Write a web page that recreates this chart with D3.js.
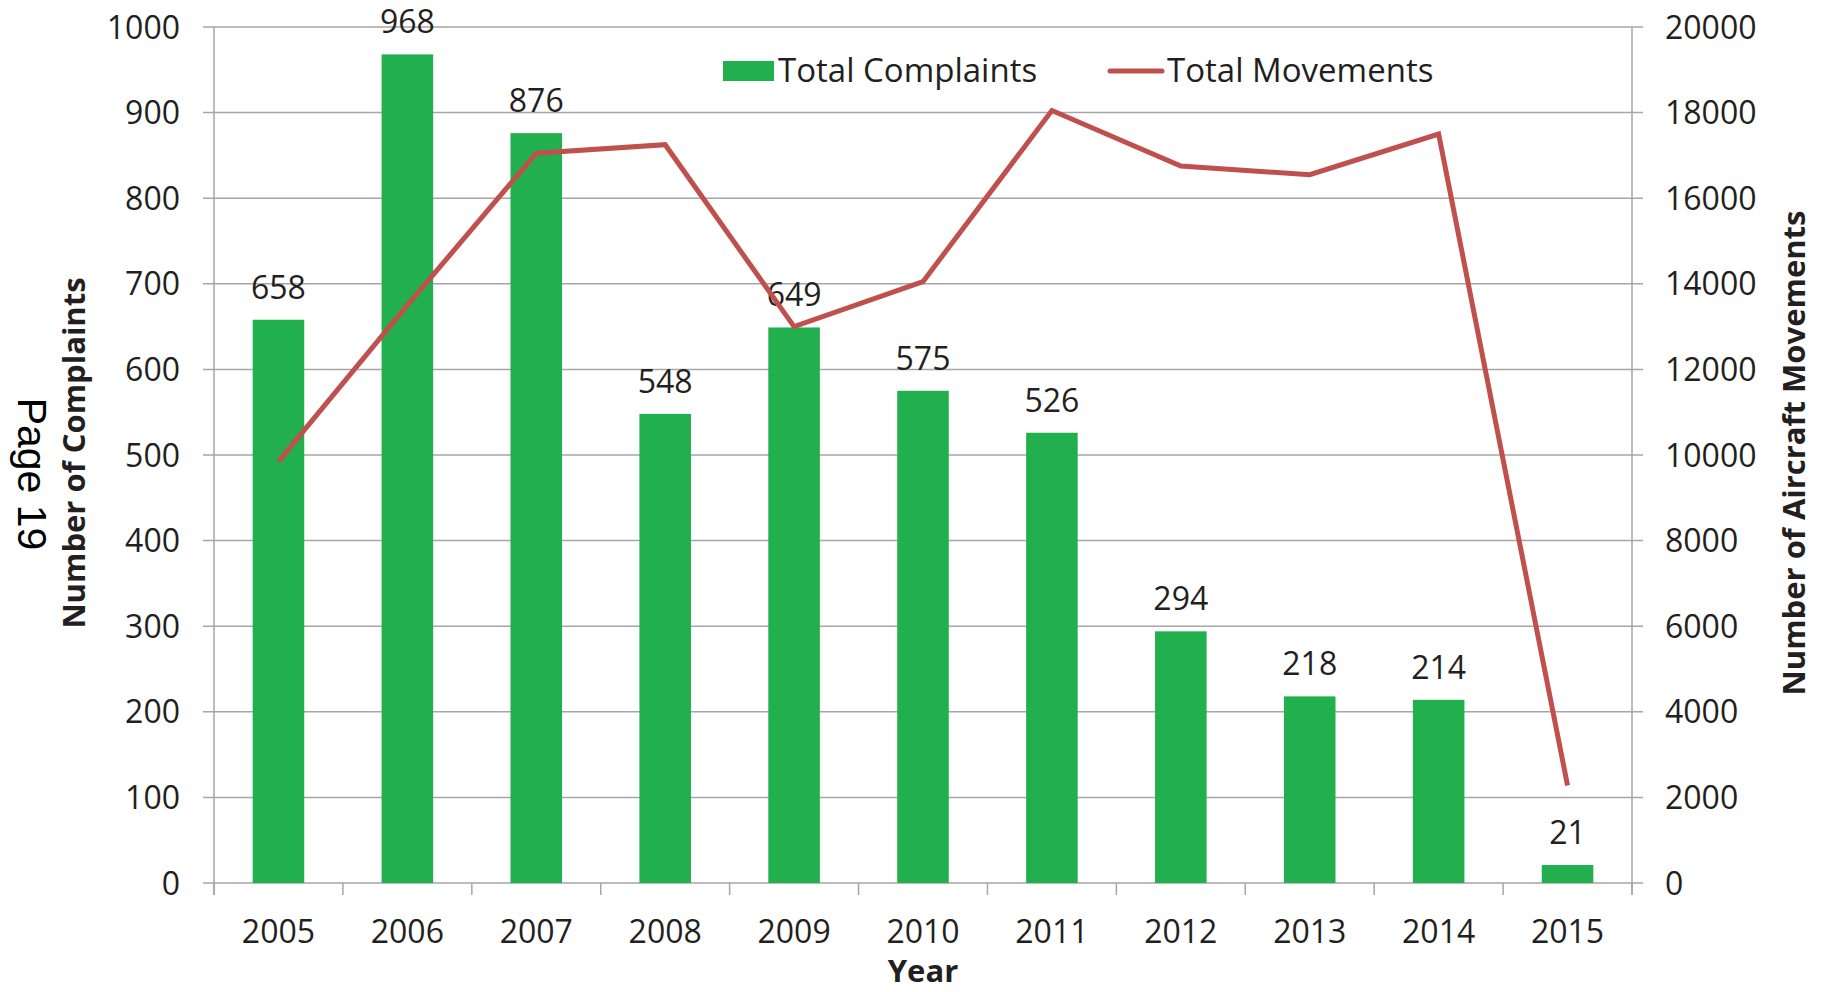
<!DOCTYPE html>
<html>
<head>
<meta charset="utf-8">
<script src="https://cdn.jsdelivr.net/npm/d3@7"></script>
<style>
  body { margin: 0; background: #fff; }
  svg text { font-family: "Open Sans", sans-serif; fill: #231f20; }
</style>
</head>
<body>
<svg id="chart"></svg>
<script>
/* Complaints vs aircraft movements, 2005 - 2015 */

const years = ["2005", "2006", "2007", "2008", "2009", "2010", "2011", "2012", "2013", "2014", "2015"];
const complaints = [658, 968, 876, 548, 649, 575, 526, 294, 218, 214, 21];
const movements = [9850, 13500, 17050, 17250, 13000, 14050, 18050, 16750, 16550, 17500, 2280];
const leftTicks = [0, 100, 200, 300, 400, 500, 600, 700, 800, 900, 1000];
const rightTicks = [0, 2000, 4000, 6000, 8000, 10000, 12000, 14000, 16000, 18000, 20000];

const width = 1823, height = 992;
const margin = {top: 27, right: 191, bottom: 109, left: 214};
const gridColor = "#a6a6a6";

let svg = d3.select("#chart")
    .attr("width", width)
    .attr("height", height);

/*** scales */
x = d3.scaleBand()
    .domain(years)
    .range([margin.left, width - margin.right])
    .paddingInner(0.6)
    .paddingOuter(0.3);

yLeft = d3.scaleLinear()
    .domain([0, 1000])
    .range([height - margin.bottom, margin.top]);

yRight = d3.scaleLinear()
    .domain([0, 20000])
    .range([height - margin.bottom, margin.top]);

/*** gridlines (also make the outer tick marks on both sides) */
svg.append("g")
    .selectAll("line")
    .data(leftTicks)
    .join("line")
    .attr("x1", margin.left - 11)
    .attr("x2", width - margin.right + 11)
    .attr("y1", d => yLeft(d))
    .attr("y2", d => yLeft(d))
    .attr("stroke", gridColor)
    .attr("stroke-width", 1.5);

/*** vertical axis lines */
[margin.left, width - margin.right].forEach(xx => {
  svg.append("line")
      .attr("x1", xx).attr("x2", xx)
      .attr("y1", margin.top).attr("y2", height - margin.bottom + 12)
      .attr("stroke", gridColor)
      .attr("stroke-width", 1.5);
});

/*** category ticks between bars */
let edges = years.map(d => x(d) - x.step() * x.paddingInner() / 2).concat([width - margin.right]);
svg.append("g")
    .selectAll("line")
    .data(edges)
    .join("line")
    .attr("x1", d => d).attr("x2", d => d)
    .attr("y1", height - margin.bottom)
    .attr("y2", height - margin.bottom + 12)
    .attr("stroke", gridColor)
    .attr("stroke-width", 1.5);

/*** bars */
svg.append("g")
    .attr("fill", "#22b04e")
    .selectAll("rect")
    .data(complaints)
    .join("rect")
    .attr("x", (d, i) => x(years[i]))
    .attr("width", x.bandwidth())
    .attr("y", d => yLeft(d))
    .attr("height", d => yLeft(0) - yLeft(d));

/*** bar value labels */
svg.append("g")
    .selectAll("text")
    .data(complaints)
    .join("text")
    .attr("x", (d, i) => x(years[i]) + x.bandwidth() / 2)
    .attr("y", d => yLeft(d) - 21)
    .attr("text-anchor", "middle")
    .attr("font-size", "32px")
    .text(d => d);

/*** movements line */
let line = d3.line()
    .x((d, i) => x(years[i]) + x.bandwidth() / 2)
    .y(d => yRight(d));

svg.append("path")
    .datum(movements)
    .attr("d", line)
    .attr("fill", "none")
    .attr("stroke", "#c0504d")
    .attr("stroke-width", 5)
    .attr("stroke-linejoin", "miter");

/*** tick labels */
svg.append("g")
    .selectAll("text")
    .data(leftTicks)
    .join("text")
    .attr("x", margin.left - 34)
    .attr("y", d => yLeft(d))
    .attr("dy", "0.36em")
    .attr("text-anchor", "end")
    .attr("font-size", "32px")
    .text(d => d);

svg.append("g")
    .selectAll("text")
    .data(rightTicks)
    .join("text")
    .attr("x", width - margin.right + 33)
    .attr("y", d => yRight(d))
    .attr("dy", "0.36em")
    .attr("text-anchor", "start")
    .attr("font-size", "32px")
    .text(d => d);

svg.append("g")
    .selectAll("text")
    .data(years)
    .join("text")
    .attr("x", d => x(d) + x.bandwidth() / 2)
    .attr("y", height - margin.bottom + 60)
    .attr("text-anchor", "middle")
    .attr("font-size", "32px")
    .text(d => d);

/*** axis titles */
svg.append("text")
    .attr("x", (margin.left + width - margin.right) / 2)
    .attr("y", 982)
    .attr("text-anchor", "middle")
    .attr("font-size", "31px")
    .attr("font-weight", "bold")
    .text("Year");

svg.append("text")
    .attr("transform", "translate(85,453) rotate(-90)")
    .attr("text-anchor", "middle")
    .attr("font-size", "31px")
    .attr("font-weight", "bold")
    .text("Number of Complaints");

svg.append("text")
    .attr("transform", "translate(1805,453) rotate(-90)")
    .attr("text-anchor", "middle")
    .attr("font-size", "31px")
    .attr("font-weight", "bold")
    .text("Number of Aircraft Movements");

svg.append("text")
    .attr("transform", "translate(18,474) rotate(90)")
    .attr("text-anchor", "middle")
    .attr("font-size", "41px")
    .style("font-family", "'Liberation Sans', Arial, sans-serif")
    .style("fill", "#000")
    .text("Page 19");

/*** legend */
let legend = svg.append("g");
legend.append("rect")
    .attr("x", 723).attr("y", 61)
    .attr("width", 51).attr("height", 20)
    .attr("fill", "#22b04e");
legend.append("text")
    .attr("x", 778).attr("y", 82)
    .attr("font-size", "33px")
    .text("Total Complaints");
legend.append("line")
    .attr("x1", 1110).attr("x2", 1162)
    .attr("y1", 71).attr("y2", 71)
    .attr("stroke", "#c0504d")
    .attr("stroke-width", 5)
    .attr("stroke-linecap", "round");
legend.append("text")
    .attr("x", 1167).attr("y", 82)
    .attr("font-size", "33px")
    .text("Total Movements");
</script>
</body>
</html>
